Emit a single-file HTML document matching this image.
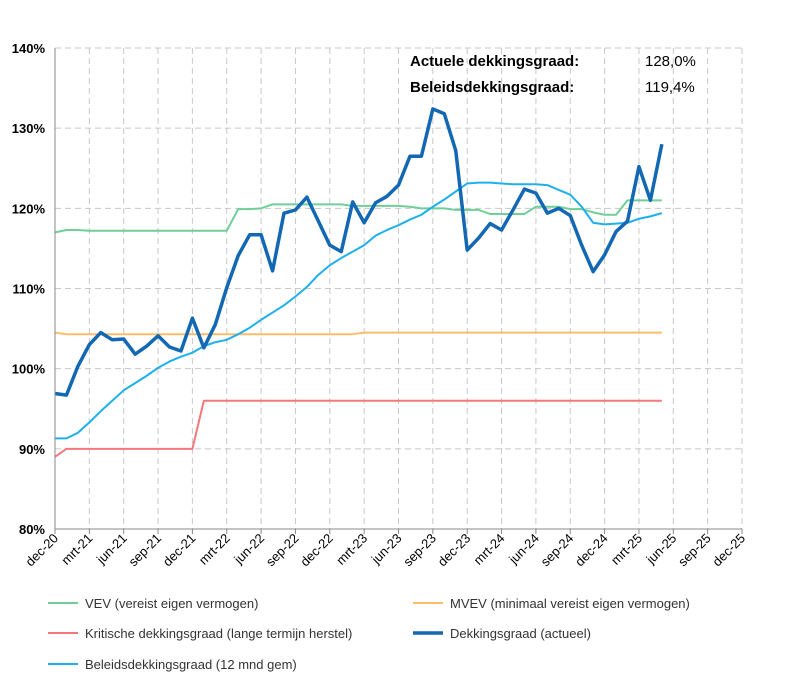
<!DOCTYPE html>
<html><head><meta charset="utf-8"><style>
body{margin:0;background:#fff;}
svg{display:block;font-family:"Liberation Sans",sans-serif;}
</style></head><body>
<svg id="chart" width="798" height="688">
<g id="grid"></g>
<g id="series"></g>
<g id="axes"></g>
<g font-size="15" fill="#000">
<text x="410" y="66" font-weight="bold">Actuele dekkingsgraad:</text>
<text x="645" y="66">128,0%</text>
<text x="410" y="92" font-weight="bold">Beleidsdekkingsgraad:</text>
<text x="645" y="92">119,4%</text>
</g>
<g id="legend" font-size="13" fill="#333"></g>
</svg>
<script>
const months = ["dec-20","mrt-21","jun-21","sep-21","dec-21","mrt-22","jun-22","sep-22","dec-22","mrt-23","jun-23","sep-23","dec-23","mrt-24","jun-24","sep-24","dec-24","mrt-25","jun-25","sep-25","dec-25"];
const yTicks = [80,90,100,110,120,130,140];
const dekking = [96.9,96.7,100.3,103.0,104.5,103.6,103.7,101.8,102.8,104.1,102.7,102.2,106.3,102.6,105.5,110.1,114.1,116.7,116.7,112.2,119.4,119.8,121.4,118.4,115.4,114.6,120.8,118.2,120.7,121.5,122.9,126.5,126.5,132.4,131.8,127.2,114.8,116.3,118.1,117.3,119.8,122.4,121.9,119.4,120.0,119.1,115.4,112.1,114.2,117.1,118.4,125.2,121.0,128.0];
const beleids = [91.3,91.3,92.0,93.3,94.7,96.0,97.3,98.2,99.1,100.1,100.9,101.5,102.0,102.8,103.3,103.6,104.3,105.1,106.1,107.0,107.9,109.0,110.2,111.7,112.9,113.8,114.6,115.4,116.6,117.3,117.9,118.6,119.2,120.2,121.1,122.1,123.1,123.2,123.2,123.1,123.0,123.0,123.0,122.9,122.3,121.7,120.2,118.2,118.0,118.1,118.2,118.7,119.0,119.4];
const vev = [117.0,117.3,117.3,117.2,117.2,117.2,117.2,117.2,117.2,117.2,117.2,117.2,117.2,117.2,117.2,117.2,119.9,119.9,120.0,120.5,120.5,120.5,120.5,120.5,120.5,120.5,120.3,120.3,120.3,120.3,120.3,120.2,120.0,120.0,120.0,119.8,119.8,119.8,119.3,119.3,119.3,119.3,120.2,120.2,120.2,119.9,119.9,119.5,119.2,119.2,121.0,121.0,121.0,121.0];
const mvev = [104.5,104.3,104.3,104.3,104.3,104.3,104.3,104.3,104.3,104.3,104.3,104.3,104.3,104.3,104.3,104.3,104.3,104.3,104.3,104.3,104.3,104.3,104.3,104.3,104.3,104.3,104.3,104.5,104.5,104.5,104.5,104.5,104.5,104.5,104.5,104.5,104.5,104.5,104.5,104.5,104.5,104.5,104.5,104.5,104.5,104.5,104.5,104.5,104.5,104.5,104.5,104.5,104.5,104.5];
const kritisch = [89.0,90,90,90,90,90,90,90,90,90,90,90,90,96,96,96,96,96,96,96,96,96,96,96,96,96,96,96,96,96,96,96,96,96,96,96,96,96,96,96,96,96,96,96,96,96,96,96,96,96,96,96,96,96];

const X0=55,X1=742,Y0=529,Y1=48;
const xm=i=>X0+(X1-X0)*i/60;
const yv=v=>Y0-(v-80)/60*(Y0-Y1);
const NS="http://www.w3.org/2000/svg";
function mk(tag,attrs,parent){const e=document.createElementNS(NS,tag);for(const k in attrs)e.setAttribute(k,attrs[k]);parent.appendChild(e);return e;}
const grid=document.getElementById('grid'),axes=document.getElementById('axes'),ser=document.getElementById('series'),leg=document.getElementById('legend');
yTicks.forEach(v=>{
  if(v>80){const l=mk('line',{x1:X0,x2:X1,y1:yv(v),y2:yv(v),stroke:'#c8c8c8','stroke-dasharray':'6,4'},grid);
  
  }
  const t=mk('text',{x:45,y:yv(v)+5,'text-anchor':'end','font-size':'13','font-weight':'bold',fill:'#000'},axes);
  t.textContent=v+'%';
  
  
});
months.forEach((m,k)=>{
  const x=xm(k*3);
  if(k>0){const l=mk('line',{x1:x,x2:x,y1:Y1,y2:Y0,stroke:'#c8c8c8','stroke-dasharray':'6,4'},grid);
  
  }
  mk('line',{x1:x,x2:x,y1:Y0,y2:Y0+5,stroke:'#888'},axes);
  const t=mk('text',{x:x+4,y:Y0+10,'text-anchor':'end','font-size':'13',fill:'#000',transform:`rotate(-45 ${x+4} ${Y0+10})`},axes);
  t.textContent=m;
  
  
});
const ax=mk('line',{x1:X0,x2:X0,y1:Y1,y2:Y0,stroke:'#888'},axes);


const ax2=mk('line',{x1:X0,x2:X1,y1:Y0,y2:Y0,stroke:'#888'},axes);


function line(data,color,w,name){
  const p=mk('polyline',{points:data.map((v,i)=>xm(i)+','+yv(v)).join(' '),fill:'none',stroke:color,'stroke-width':w,'stroke-linejoin':'round'},ser);
  
  
}
line(kritisch,'#f4787a',2,'kritische-line');
line(mvev,'#fbbd6a',2,'mvev-line');
line(vev,'#6fcf97',2,'vev-line');
line(beleids,'#1eb0ec',2,'beleids-line');
line(dekking,'#1268b3',3.5,'dekking-line');
const entries=[["VEV (vereist eigen vermogen)",'#6fcf97',2,48,603],["MVEV (minimaal vereist eigen vermogen)",'#fbbd6a',2,413,603],["Kritische dekkingsgraad (lange termijn herstel)",'#f4787a',2,48,633],["Dekkingsgraad (actueel)",'#1268b3',3.5,413,633],["Beleidsdekkingsgraad (12 mnd gem)",'#1eb0ec',2,48,664]];
entries.forEach(e=>{
  const g=mk('g',{},leg);
  
  
  mk('line',{x1:e[3],x2:e[3]+30,y1:e[4],y2:e[4],stroke:e[1],'stroke-width':e[2]},g);
  const t=mk('text',{x:e[3]+37,y:e[4]+5},g);
  t.textContent=e[0];
});
</script>
</body></html>
